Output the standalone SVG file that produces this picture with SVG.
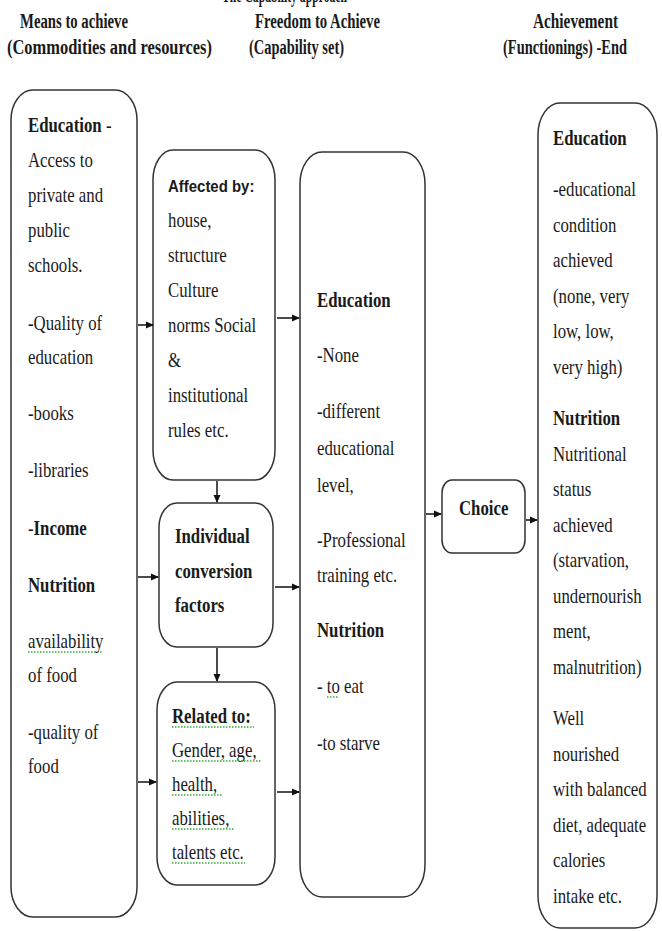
<svg xmlns="http://www.w3.org/2000/svg" width="662" height="931" viewBox="0 0 662 931">
<defs>
<style>
.t{font-family:"Liberation Serif","Times New Roman",serif;font-size:21px;fill:#1a1a1a}
.b{font-weight:bold}
.h{font-family:"Liberation Serif","Times New Roman",serif;font-size:20px;font-weight:bold;fill:#1a1a1a}
.s{font-family:"Liberation Sans",Arial,sans-serif;font-size:17px;font-weight:bold;fill:#1a1a1a}
.box{fill:#fff;stroke:#333;stroke-width:1.5}
.arr{stroke:#111;stroke-width:1.5;fill:none;marker-end:url(#ah)}
.sq{stroke:#3a3;stroke-width:1.3;stroke-dasharray:1.5 1.5;fill:none}
</style>
<marker id="ah" markerWidth="8" markerHeight="8" refX="7" refY="4" orient="auto" markerUnits="userSpaceOnUse">
<path d="M0,0.5 L8,4 L0,7.5 z" fill="#111"/>
</marker>
</defs>
<rect width="662" height="931" fill="#fff"/>

<g id="headers">
<text class="h" x="222" y="2" fill="#777" textLength="125" lengthAdjust="spacingAndGlyphs">The Capability approach</text>
<text class="h" x="20" y="28" textLength="108" lengthAdjust="spacingAndGlyphs">Means to achieve</text>
<text class="h" x="7" y="54" textLength="205" lengthAdjust="spacingAndGlyphs">(Commodities and resources)</text>
<text class="h" x="255" y="28" textLength="125" lengthAdjust="spacingAndGlyphs">Freedom to Achieve</text>
<text class="h" x="249" y="54" textLength="95" lengthAdjust="spacingAndGlyphs">(Capability set)</text>
<text class="h" x="533" y="28" textLength="85" lengthAdjust="spacingAndGlyphs">Achievement</text>
<text class="h" x="503" y="54" textLength="124" lengthAdjust="spacingAndGlyphs">(Functionings) -End</text>
</g>

<g id="means">
<rect class="box" x="11" y="90" width="126" height="827" rx="22" ry="30"/>
<g transform="translate(28,0) scale(0.8,1)">
<text class="t" x="0" y="132"><tspan class="b">Education</tspan> -</text>
<text class="t" x="0" y="167">Access to</text>
<text class="t" x="0" y="202">private and</text>
<text class="t" x="0" y="237">public</text>
<text class="t" x="0" y="272">schools.</text>
<text class="t" x="0" y="330">-Quality of</text>
<text class="t" x="0" y="364">education</text>
<text class="t" x="0" y="420">-books</text>
<text class="t" x="0" y="477">-libraries</text>
<text class="t" x="0" y="535">-<tspan class="b">Income</tspan></text>
<text class="t b" x="0" y="592">Nutrition</text>
<text class="t" x="0" y="648">availability</text>
<text class="t" x="0" y="682">of food</text>
<text class="t" x="0" y="739">-quality of</text>
<text class="t" x="0" y="773">food</text>
</g>
</g>

<g id="affected">
<rect class="box" x="153" y="150" width="122" height="330" rx="20" ry="30"/>
<text class="s" transform="translate(168,0) scale(0.88,1)" x="0" y="192">Affected by:</text>
<g transform="translate(168,0) scale(0.8,1)">
<text class="t" x="0" y="227">house,</text>
<text class="t" x="0" y="262">structure</text>
<text class="t" x="0" y="297">Culture</text>
<text class="t" x="0" y="332">norms Social</text>
<text class="t" x="0" y="367">&amp;</text>
<text class="t" x="0" y="402">institutional</text>
<text class="t" x="0" y="437">rules etc.</text>
</g>
</g>

<g id="individual">
<rect class="box" x="159" y="503" width="114" height="144" rx="18" ry="24"/>
<g transform="translate(175,0) scale(0.8,1)">
<text class="t b" x="0" y="543">Individual</text>
<text class="t b" x="0" y="578">conversion</text>
<text class="t b" x="0" y="612">factors</text>
</g>
</g>

<g id="related">
<rect class="box" x="157" y="682" width="118" height="203" rx="20" ry="28"/>
<g transform="translate(172,0) scale(0.8,1)">
<text class="t b" x="0" y="723">Related to:</text>
<text class="t" x="0" y="757">Gender, age,</text>
<text class="t" x="0" y="791">health,</text>
<text class="t" x="0" y="825">abilities,</text>
<text class="t" x="0" y="859">talents etc.</text>
</g>
</g>

<g id="capability">
<rect class="box" x="300" y="152" width="125" height="745" rx="22" ry="32"/>
<g transform="translate(317,0) scale(0.8,1)">
<text class="t b" x="0" y="307">Education</text>
<text class="t" x="0" y="362">-None</text>
<text class="t" x="0" y="418">-different</text>
<text class="t" x="0" y="455">educational</text>
<text class="t" x="0" y="492">level,</text>
<text class="t" x="0" y="547">-Professional</text>
<text class="t" x="0" y="582">training etc.</text>
<text class="t b" x="0" y="637">Nutrition</text>
<text class="t" x="0" y="693">- to eat</text>
<text class="t" x="0" y="750">-to starve</text>
</g>
</g>

<g id="choice">
<rect class="box" x="442" y="480" width="83" height="73" rx="10" ry="13"/>
<text class="t b" transform="translate(459,0) scale(0.8,1)" x="0" y="515">Choice</text>
</g>

<g id="achievement">
<rect class="box" x="538" y="103" width="119" height="825" rx="22" ry="32"/>
<g transform="translate(553,0) scale(0.8,1)">
<text class="t b" x="0" y="145">Education</text>
<text class="t" x="0" y="196">-educational</text>
<text class="t" x="0" y="232">condition</text>
<text class="t" x="0" y="267">achieved</text>
<text class="t" x="0" y="303">(none, very</text>
<text class="t" x="0" y="338">low, low,</text>
<text class="t" x="0" y="374">very high)</text>
<text class="t b" x="0" y="425">Nutrition</text>
<text class="t" x="0" y="461">Nutritional</text>
<text class="t" x="0" y="496">status</text>
<text class="t" x="0" y="532">achieved</text>
<text class="t" x="0" y="567">(starvation,</text>
<text class="t" x="0" y="603">undernourish</text>
<text class="t" x="0" y="638">ment,</text>
<text class="t" x="0" y="674">malnutrition)</text>
<text class="t" x="0" y="725">Well</text>
<text class="t" x="0" y="761">nourished</text>
<text class="t" x="0" y="796">with balanced</text>
<text class="t" x="0" y="832">diet, adequate</text>
<text class="t" x="0" y="867">calories</text>
<text class="t" x="0" y="903">intake etc.</text>
</g>
</g>

<g id="squiggles">
<path class="sq" d="M28,652 H103"/>
<path class="sq" d="M172,727 H254"/>
<path class="sq" d="M172,761 H262"/>
<path class="sq" d="M172,795 H222"/>
<path class="sq" d="M172,829 H235"/>
<path class="sq" d="M172,863 H245"/>
<path class="sq" d="M327,697 H338"/>
</g>

<g id="connectors">
<path class="arr" d="M138,325 H153"/>
<path class="arr" d="M138,577 H158"/>
<path class="arr" d="M138,782 H156"/>
<path class="arr" d="M277,318 H299"/>
<path class="arr" d="M275,587 H299"/>
<path class="arr" d="M277,792 H299"/>
<path class="arr" d="M217,481 V502"/>
<path class="arr" d="M217,648 V681"/>
<path class="arr" d="M426,514 H441"/>
<path class="arr" d="M526,520 H537"/>
</g>
</svg>
